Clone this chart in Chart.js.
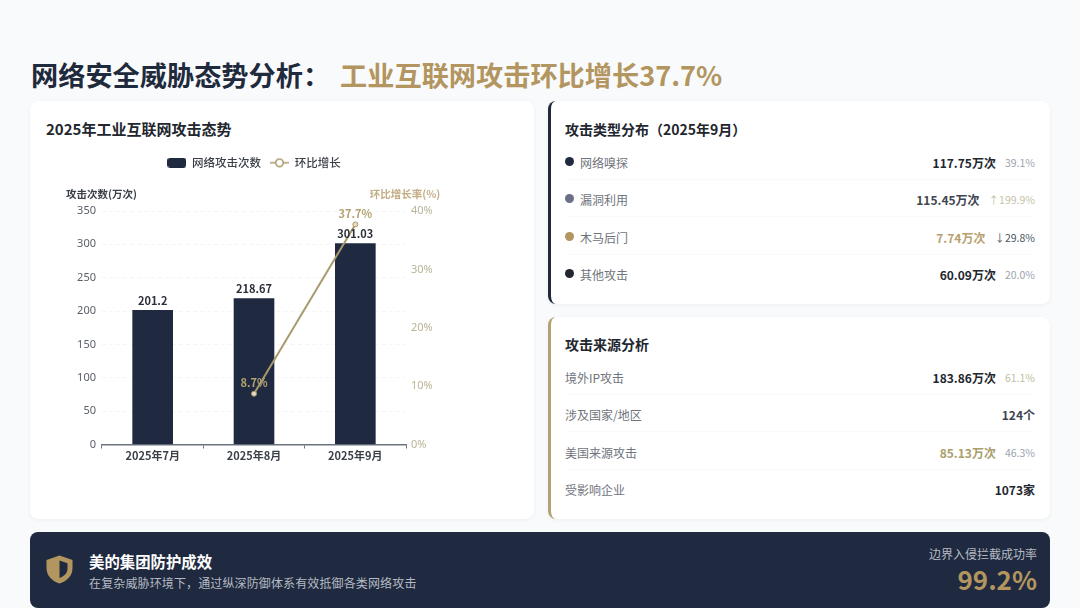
<!DOCTYPE html>
<html lang="zh">
<head>
<meta charset="utf-8">
<title>网络安全威胁态势分析</title>
<script src="https://cdn.jsdelivr.net/npm/chart.js@4"></script>
<style>
  * { box-sizing: border-box; margin: 0; padding: 0; }
  html, body { width: 1080px; height: 608px; overflow: hidden; background: #f9fafb; font-family: "Noto Sans CJK SC", "Noto Sans", sans-serif; }
  .title { position: absolute; left: 31px; top: 54px; font-size: 27.2px; line-height: 40px; font-weight: 700; color: #1f2a3d; white-space: nowrap; }
  .title span { color: #b3955f; margin-left: 10px; }
  .card { position: absolute; background: #fff; border-radius: 8px; box-shadow: 0 1px 4px rgba(0, 0, 0, 0.05); }
  .card h2 { position: absolute; font-size: 14px; line-height: 20px; font-weight: 700; color: #22262e; white-space: nowrap; }
  #trendCard { left: 30px; top: 101px; width: 504px; height: 418px; }
  #trendCard h2 { left: 16px; top: 18px; font-size: 15px; }
  #trendChart { position: absolute; left: 0; top: 0; }
  #typeCard { left: 548px; top: 101px; width: 502px; height: 203px; border-left: 3px solid #1f2a3d; }
  #sourceCard { left: 548px; top: 317px; width: 502px; height: 202px; border-left: 3px solid #b3a272; }
  #typeCard h2 { left: 14px; top: 18px; }
  #sourceCard h2 { left: 14px; top: 17px; }
  .row { position: absolute; left: 14px; width: 470px; height: 20px; display: flex; align-items: center; font-size: 12px; white-space: nowrap; }
  .row .dot { width: 9px; height: 9px; border-radius: 50%; margin-right: 6px; margin-top: -2px; }
  .row .name { color: #6f747c; flex: 1; }
  .row .val { font-size: 12px; font-weight: 700; color: #22262e; }
  .row .pct { font-size: 10.5px; margin-left: 9px; color: #9ca3af; }
  .line { position: absolute; left: 14px; width: 470px; height: 1px; background: #fafafa; }
  .banner { position: absolute; left: 30px; top: 532px; width: 1020px; height: 76px; background: #1f2a40; border-radius: 8px; color: #fff; }
  .banner svg { position: absolute; left: 16px; top: 23px; }
  .banner .head { position: absolute; left: 59px; top: 19px; font-size: 15.4px; line-height: 20px; font-weight: 700; white-space: nowrap; }
  .banner .sub { position: absolute; left: 59px; top: 42px; font-size: 12px; letter-spacing: 0.13px; line-height: 18px; color: #b6bac2; white-space: nowrap; }
  .banner .rate { position: absolute; right: 13px; top: 13px; font-size: 12px; line-height: 18px; color: #b6bac2; white-space: nowrap; }
  .banner .big { position: absolute; right: 13px; top: 28px; font-size: 26px; line-height: 38px; font-weight: 700; color: #b3955f; white-space: nowrap; }
</style>
</head>
<body>
<div class="title">网络安全威胁态势分析：<span>工业互联网攻击环比增长37.7%</span></div>

<div class="card" id="trendCard">
  <h2>2025年工业互联网攻击态势</h2>
  <canvas id="trendChart" width="504" height="418"></canvas>
</div>
<div class="card" id="typeCard"><h2>攻击类型分布（2025年9月）</h2></div>
<div class="card" id="sourceCard"><h2>攻击来源分析</h2></div>

<div class="banner">
  <svg width="27" height="29" viewBox="0 0 27 29">
    <path d="M13.5 0.5 L26.5 5 V13 C26.5 21 21 26 13.5 28.5 C6 26 0.5 21 0.5 13 V5 Z" fill="#b3955f"/>
    <path d="M13.5 5.5 L21.5 8.3 V13.5 C21.5 18 18.5 21 13.5 23 Z" fill="#1f2a40"/>
  </svg>
  <div class="head">美的集团防护成效</div>
  <div class="sub">在复杂威胁环境下，通过纵深防御体系有效抵御各类网络攻击</div>
  <div class="rate">边界入侵拦截成功率</div>
  <div class="big">99.2%</div>
</div>

<script>
// 图表数据
const months = ['2025年7月', '2025年8月', '2025年9月'];
const attackCounts = [201.2, 218.67, 301.03];
const growthRates = [null, 8.7, 37.7];
const leftTicks = [0, 50, 100, 150, 200, 250, 300, 350];
const rightTicks = [0, 10, 20, 30, 40];

// 右侧列表数据
const typeNames = ['网络嗅探', '漏洞利用', '木马后门', '其他攻击'];
const typeValues = ['117.75万次', '115.45万次', '7.74万次', '60.09万次'];
const typePcts = ['39.1%', '↑199.9%', '↓29.8%', '20.0%'];
const typeDots = ['#1f2a40', '#6b6f88', '#b3955f', '#22262e'];
const typeValueColors = ['#22262e', '#3f4550', '#b8a06e', '#22262e'];
const typePctColors = ['#9ca3af', '#c4c4a6', '#4b5563', '#9ca3af'];

const sourceNames = ['境外IP攻击', '涉及国家/地区', '美国来源攻击', '受影响企业'];
const sourceValues = ['183.86万次', '124个', '85.13万次', '1073家'];
const sourcePcts = ['61.1%', '', '46.3%', ''];
const sourceValueColors = ['#22262e', '#3f4550', '#ab9d6c', '#22262e'];
const sourcePctColors = ['#c0bea2', '', '#9ca3af', ''];

const NAVY = '#1f2a40';
const GOLD = '#a89a6c';
const FONT = '"Noto Sans CJK SC", "Noto Sans", sans-serif';

// 生成列表行
function addRows(cardId, names, values, pcts, valueColors, pctColors, rowTops, dots) {
  const card = document.getElementById(cardId);
  names.forEach((name, i) => {
    const row = document.createElement('div');
    row.className = 'row';
    row.style.top = rowTops[i] + 'px';
    row.innerHTML = `
      ${dots ? `<i class="dot" style="background:${dots[i]}"></i>` : ''}
      <span class="name">${name}</span>
      <span class="val" style="color:${valueColors[i]}">${values[i]}</span>
      ${pcts[i] ? `<span class="pct" style="color:${pctColors[i]}">${pcts[i]}</span>` : ''}
    `;
    card.appendChild(row);
    if (i < names.length - 1) {
      const line = document.createElement('div');
      line.className = 'line';
      line.style.top = rowTops[i] + 27 + 'px';
      card.appendChild(line);
    }
  });
}
addRows('typeCard', typeNames, typeValues, typePcts, typeValueColors, typePctColors, [51, 88, 126, 163], typeDots);
addRows('sourceCard', sourceNames, sourceValues, sourcePcts, sourceValueColors, sourcePctColors, [50, 87, 125, 162], null);

// 图例图标
function legendBarIcon() {
  const c = document.createElement('canvas');
  c.width = 19; c.height = 10;
  const ctx = c.getContext('2d');
  ctx.fillStyle = NAVY;
  ctx.beginPath();
  ctx.roundRect(0, 0, 19, 10, 3);
  ctx.fill();
  return c;
}
function legendLineIcon() {
  const c = document.createElement('canvas');
  c.width = 19; c.height = 10;
  const ctx = c.getContext('2d');
  ctx.strokeStyle = GOLD;
  ctx.lineWidth = 1.5;
  ctx.beginPath();
  ctx.moveTo(0, 5); ctx.lineTo(19, 5);
  ctx.stroke();
  ctx.fillStyle = '#fff';
  ctx.beginPath();
  ctx.arc(9.5, 5, 3.8, 0, Math.PI * 2);
  ctx.fill();
  ctx.stroke();
  return c;
}

// 固定图例高度，让绘图区顶部对齐
const legendHeightPlugin = {
  id: 'legendHeightPlugin',
  beforeInit(chart) {
    const fit = chart.legend.fit;
    chart.legend.fit = function () {
      fit.call(this);
      this.height = 63;
    };
  }
};

// 数据标签和坐标轴名称
const labelPlugin = {
  id: 'labelPlugin',
  afterDatasetsDraw(chart) {
    const ctx = chart.ctx;
    const barMeta = chart.getDatasetMeta(0);
    const lineMeta = chart.getDatasetMeta(1);
    ctx.save();
    ctx.textAlign = 'center';
    ctx.textBaseline = 'bottom';
    ctx.font = `700 11px ${FONT}`;
    ctx.fillStyle = '#2b2f38';
    barMeta.data.forEach((bar, i) => ctx.fillText(String(attackCounts[i]), bar.x, bar.y - 4));
    ctx.fillStyle = '#b3a272';
    lineMeta.data.forEach((pt, i) => {
      if (growthRates[i] !== null) ctx.fillText(growthRates[i] + '%', pt.x, pt.y - 5);
    });
    ctx.textBaseline = 'middle';
    ctx.font = `700 10.5px ${FONT}`;
    ctx.fillStyle = '#3a3f48';
    ctx.fillText('攻击次数(万次)', chart.chartArea.left - 0.5, 93);
    ctx.fillStyle = '#c2ad84';
    ctx.fillText('环比增长率(%)', chart.chartArea.right - 1, 93);
    ctx.restore();
  }
};

new Chart(document.getElementById('trendChart'), {
  data: {
    labels: months,
    datasets: [
      {
        type: 'bar',
        label: '网络攻击次数',
        data: attackCounts,
        backgroundColor: NAVY,
        barThickness: 40,
        yAxisID: 'y',
        order: 2
      },
      {
        type: 'line',
        label: '环比增长',
        data: growthRates,
        borderColor: GOLD,
        borderWidth: 2,
        pointRadius: 2.5,
        pointBackgroundColor: '#e8d9c0',
        pointBorderColor: GOLD,
        pointBorderWidth: 1,
        yAxisID: 'y1',
        order: 1
      }
    ]
  },
  options: {
    responsive: false,
    animation: false,
    devicePixelRatio: 1,
    layout: { padding: { top: 47, left: 32, right: 88, bottom: 44.5 } },
    plugins: {
      tooltip: { enabled: false },
      legend: {
        position: 'top',
        labels: {
          usePointStyle: true,
          pointStyleWidth: 19,
          padding: 9,
          color: '#3a3f48',
          font: { family: FONT, size: 11.5, weight: '500' },
          generateLabels() {
            return [
              { text: '网络攻击次数', pointStyle: legendBarIcon(), datasetIndex: 0, fontColor: '#3a3f48' },
              { text: '环比增长', pointStyle: legendLineIcon(), datasetIndex: 1, fontColor: '#3a3f48' }
            ];
          }
        }
      }
    },
    scales: {
      x: {
        offset: true,
        afterFit(s) { s.height = 30; },
        grid: { display: true, drawOnChartArea: false, drawTicks: true, tickLength: 4, tickColor: '#6b7280' },
        border: { color: '#6b7280', width: 1.5 },
        ticks: { color: '#3a3f48', padding: 1, font: { family: FONT, size: 11, weight: '700' } }
      },
      y: {
        position: 'left',
        min: 0,
        max: 350,
        afterFit(s) { s.width = 40; },
        afterBuildTicks(s) { s.ticks = leftTicks.map(v => ({ value: v })); },
        grid: { color: '#f5f5f5', drawTicks: false },
        border: { display: false, dash: [4, 3] },
        ticks: { color: '#5b6068', padding: 6, font: { family: 'Noto Sans', size: 11 } }
      },
      y1: {
        position: 'right',
        min: 0,
        max: 40,
        afterFit(s) { s.width = 40; },
        afterBuildTicks(s) { s.ticks = rightTicks.map(v => ({ value: v })); },
        grid: { display: false, drawTicks: false },
        border: { display: false },
        ticks: {
          color: '#b9b498',
          padding: 5,
          font: { family: 'Noto Sans', size: 11 },
          callback: v => v + '%'
        }
      }
    }
  },
  plugins: [legendHeightPlugin, labelPlugin]
});
</script>
</body>
</html>
